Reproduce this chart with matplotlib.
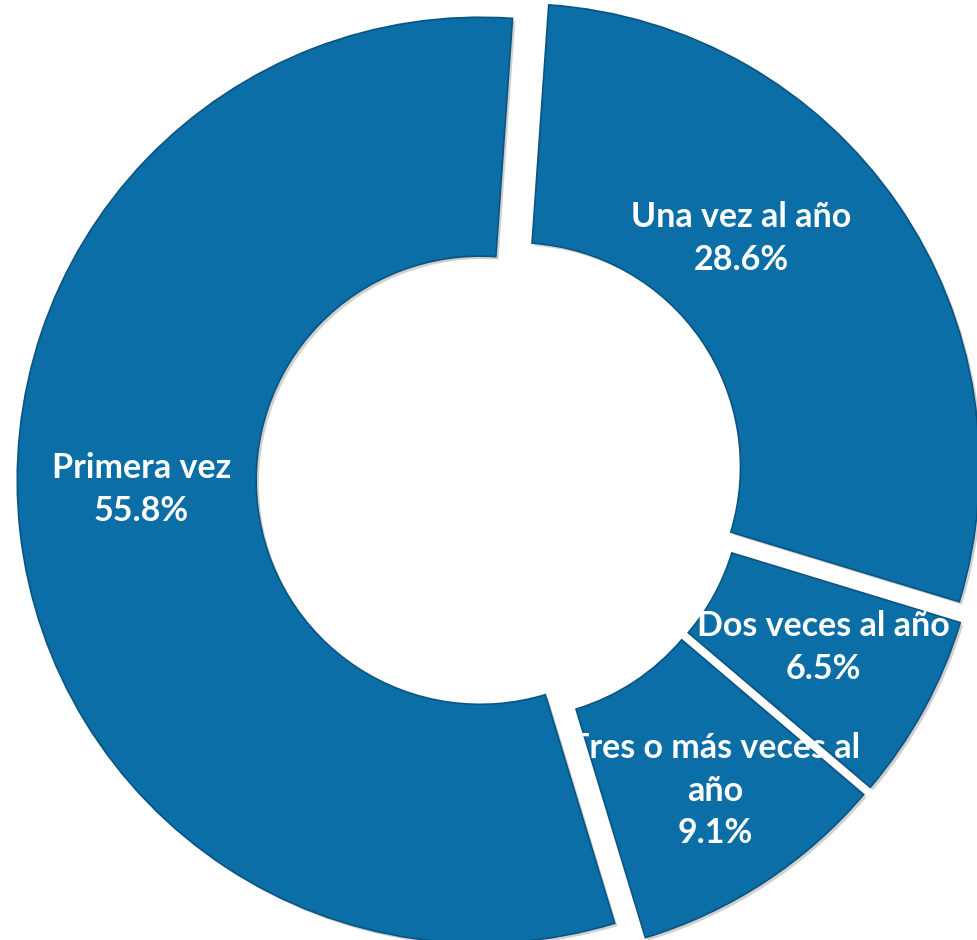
import matplotlib
matplotlib.use("Agg")
import matplotlib.pyplot as plt
import matplotlib.patheffects as pe

# frecuencia de visita
categorias = ["Una vez al año", "Dos veces al año", "Tres o más veces al\naño", "Primera vez"]
porcentajes = [28.6, 6.5, 9.1, 55.8]

# posiciones de las etiquetas (coordenadas del eje)
pos_etiquetas = [(0.521, 0.517), (0.698, -0.366), (0.464, -0.675), (-0.775, -0.024)]

azul = "#0c6ea6"

fig = plt.figure(figsize=(9.78, 9.40), dpi=100)
ax = fig.add_axes([0, 0, 1, 1])

wedges, _ = ax.pie(porcentajes, startangle=86, counterclock=False,
                   radius=1.0, explode=[0.043] * 4,
                   colors=[azul] * 4,
                   wedgeprops=dict(width=0.516, edgecolor="#0a5482", linewidth=1.2))

for w in wedges:
    w.set_path_effects([pe.SimplePatchShadow(offset=(2, -2), shadow_rgbFace="#7a7a7a", alpha=0.35),
                        pe.Normal()])

for cat, val, (x, y) in zip(categorias, porcentajes, pos_etiquetas):
    ax.text(x, y, "%s\n%.1f%%" % (cat, val), ha="center", va="center",
            color="white", fontsize=24.5, fontweight="bold", family="Lato",
            linespacing=1.42)

ax.set_xlim(-1.080, 1.0324)
ax.set_ylim(-0.9978, 1.0324)
ax.set_aspect("equal")
ax.axis("off")

fig.savefig("out.png", dpi=100, facecolor="white")
